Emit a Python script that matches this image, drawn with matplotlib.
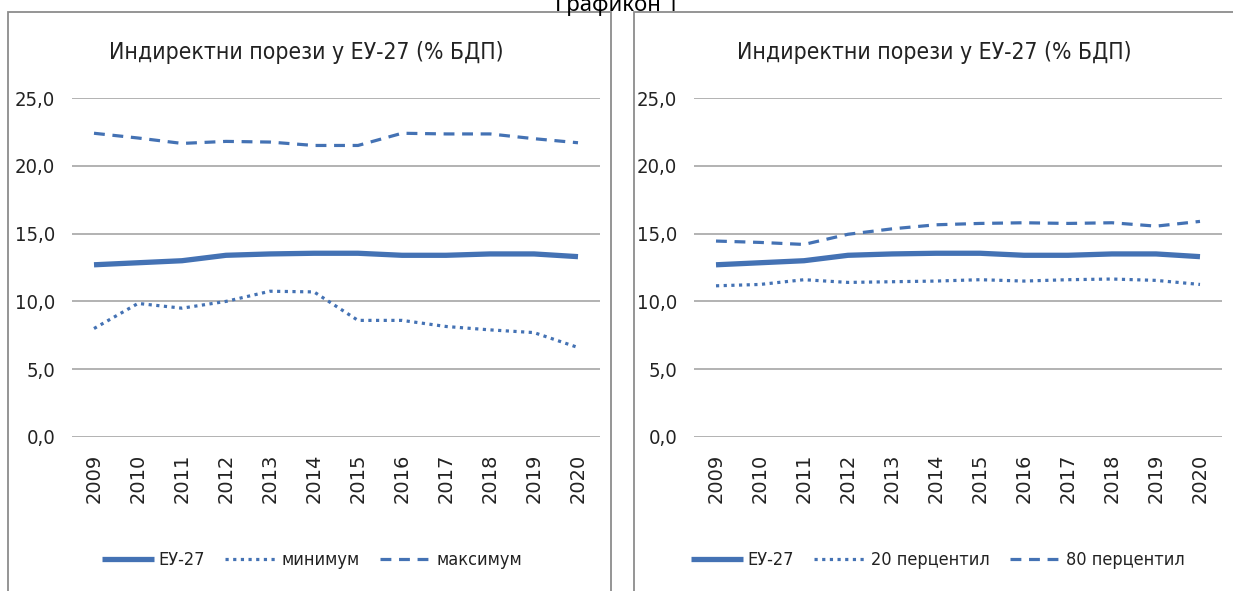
import matplotlib
matplotlib.use("Agg")
import matplotlib.pyplot as plt
from matplotlib import font_manager
from matplotlib.patches import Rectangle

# data
years = [str(y) for y in range(2009, 2021)]
eu27 = [12.7, 12.85, 13.0, 13.4, 13.5, 13.55, 13.55, 13.4, 13.4, 13.5, 13.5, 13.3]
minimum = [8.0, 9.85, 9.5, 10.0, 10.75, 10.7, 8.6, 8.6, 8.15, 7.9, 7.7, 6.6]
maximum = [22.4, 22.05, 21.65, 21.8, 21.75, 21.5, 21.5, 22.4, 22.35, 22.35, 22.0, 21.7]
p20 = [11.15, 11.25, 11.6, 11.4, 11.45, 11.5, 11.6, 11.5, 11.6, 11.65, 11.55, 11.25]
p80 = [14.45, 14.35, 14.2, 14.95, 15.35, 15.65, 15.75, 15.8, 15.75, 15.8, 15.55, 15.9]

title = "Индиректни порези у ЕУ-27 (% БДП)"
yticks = [0, 5, 10, 15, 20, 25]
ytick_labels = ["0,0", "5,0", "10,0", "15,0", "20,0", "25,0"]

blue = "#4472B4"
grid_col = "#A6A6A6"

# narrow font like Calibri: look for an upright condensed DejaVu face
cond_dejavu = [f for f in font_manager.fontManager.ttflist
               if f.name == "DejaVu Sans" and f.style == "normal"
               and f.weight in (400, "normal")
               and "condensed" in str(f.stretch).lower()]
if cond_dejavu:
    narrow_fp = dict(fname=cond_dejavu[0].fname)
    scale = 1.0
else:
    narrow_fp = dict(family="DejaVu Sans")
    scale = 0.85


def nf(size):
    return font_manager.FontProperties(size=size * scale, **narrow_fp)


W, H = 1233, 591
fig = plt.figure(figsize=(W / 100, H / 100), dpi=100)

# chart frames
for x0, x1 in [(8, 611), (634, 1240)]:
    fig.patches.append(Rectangle((x0 / W, -0.05), (x1 - x0) / W, 1 - 12 / H + 0.05,
                                 transform=fig.transFigure, fill=False,
                                 edgecolor="#8C8C8C", lw=1.3))

fig.text(617 / W, 1 - 11 / H, "Графикон 1", ha="center", va="baseline",
         fontsize=16, family=["Noto Sans", "DejaVu Sans"])


def panel(left_px, series, labels, title_x, leg_x):
    ax = fig.add_axes([left_px / W, (H - 437) / H, 528 / W, (437 - 98) / H])
    x = list(range(len(years)))
    styles = [dict(lw=3.8, ls="-", solid_capstyle="butt"),
              dict(lw=2.3, ls=(0, (1, 1.4)), dash_capstyle="butt"),
              dict(lw=2.3, ls=(0, (3.4, 2.4)), dash_capstyle="butt")]
    for s, lab, st in zip(series, labels, styles):
        ax.plot(x, s, color=blue, label=lab, **st)
    ax.set_xlim(-0.5, len(years) - 0.5)
    ax.set_ylim(0, 25)
    ax.set_yticks(yticks)
    ax.set_yticklabels(ytick_labels, fontproperties=nf(14.5), color="#222222")
    ax.set_xticks(x)
    ax.set_xticklabels(years, rotation=90, fontsize=14, color="#222222")
    ax.tick_params(length=0, pad=12)
    ax.tick_params(axis="x", pad=12)
    ax.grid(axis="y", color=grid_col, lw=1.2)
    ax.set_axisbelow(True)
    for sp in ax.spines.values():
        sp.set_visible(False)
    fig.text(title_x / W, 1 - 52 / H, title, ha="center", va="center",
             fontproperties=nf(16.5), color="#222222")
    leg = ax.legend(loc="center", bbox_to_anchor=(leg_x / W, 1 - 560 / H),
                    bbox_transform=fig.transFigure, ncol=3, frameon=False,
                    handlelength=2.9, columnspacing=1.1, handletextpad=0.25,
                    prop=nf(13))
    for t in leg.get_texts():
        t.set_color("#222222")
    return ax


panel(72, [eu27, minimum, maximum], ["ЕУ-27", "минимум", "максимум"], 306, 312)
panel(694, [eu27, p20, p80], ["ЕУ-27", "20 перцентил", "80 перцентил"], 934, 938)

fig.savefig("out.png", dpi=100)
